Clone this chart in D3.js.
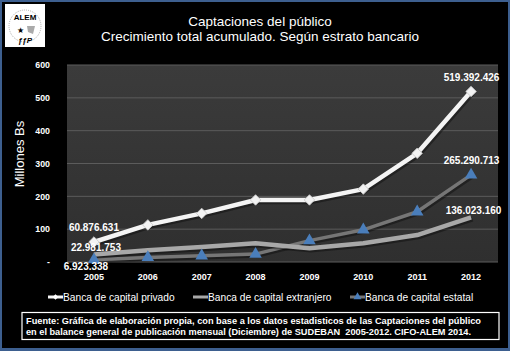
<!DOCTYPE html>
<html>
<head>
<meta charset="utf-8">
<script src="https://cdn.jsdelivr.net/npm/d3@7"></script>
<style>
  body { margin: 0; background: #000; }
  svg { display: block; }
</style>
</head>
<body>
<div id="chart"></div>
<script>
let w = 510;
let h = 351;

// data
let years = ["2005", "2006", "2007", "2008", "2009", "2010", "2011", "2012"];
let privado = [60.88, 113, 148, 189, 189, 222, 331, 519.39];
let extranjero = [22.98, 36, 46, 57, 42, 57, 82, 136.02];
let estatal = [6.92, 14, 19, 24, 65, 98, 153, 265.29];
let yTicks = [0, 100, 200, 300, 400, 500, 600];
let labelsPrivado = {0: "60.876.631", 7: "519.392.426"};
let labelsExtranjero = {0: "22.981.753", 7: "136.023.160"};
let labelsEstatal = {0: "6.923.338", 7: "265.290.713"};
let legendNames = ["Banca de capital privado", "Banca de capital extranjero", "Banca de capital estatal"];

let font = "'Liberation Sans', Arial, sans-serif";

let svg = d3.select("#chart").append("svg")
  .attr("width", w)
  .attr("height", h);

// frame
svg.append("rect").attr("width", w).attr("height", h).attr("fill", "#3d5f8f");
svg.append("rect").attr("x", 2).attr("y", 2).attr("width", w - 4).attr("height", h - 5).attr("fill", "#000");

let defs = svg.append("defs");
let grad = defs.append("linearGradient").attr("id", "bg").attr("x1", 0).attr("y1", 0).attr("x2", 0).attr("y2", 1);
grad.append("stop").attr("offset", "0%").attr("stop-color", "#3b3b3b");
grad.append("stop").attr("offset", "100%").attr("stop-color", "#2f2f2f");

// logo
let logo = svg.append("g").attr("transform", "translate(5,4)");
logo.append("rect").attr("width", 40).attr("height", 43).attr("fill", "#fff");
logo.append("circle").attr("cx", 20).attr("cy", 22).attr("r", 16).attr("fill", "none").attr("stroke", "#999").attr("stroke-width", 0.8).attr("stroke-dasharray", "1,1");
logo.append("text").attr("x", 20).attr("y", 16).attr("text-anchor", "middle")
  .attr("font-family", font).attr("font-weight", "bold").attr("font-size", 8).attr("fill", "#000").text("ALEM");
logo.append("text").attr("x", 15).attr("y", 29).attr("text-anchor", "middle")
  .attr("font-size", 8).attr("fill", "#000").text("★");
logo.append("path").attr("d", "M22,22 L30,22 L28,30 L23,28 Z").attr("fill", "#aaa");
logo.append("text").attr("x", 20).attr("y", 39).attr("text-anchor", "middle")
  .attr("font-family", font).attr("font-weight", "bold").attr("font-style", "italic").attr("font-size", 8).attr("fill", "#000").text("ƒƒP");

// title
svg.append("text").attr("x", 260).attr("y", 26).attr("text-anchor", "middle")
  .attr("font-family", font).attr("font-size", 13.5).attr("fill", "#fff")
  .text("Captaciones del público");
svg.append("text").attr("x", 260).attr("y", 41).attr("text-anchor", "middle")
  .attr("font-family", font).attr("font-size", 13.5).attr("fill", "#fff")
  .text("Crecimiento total acumulado. Según estrato bancario");

// plot
let pLeft = 67, pRight = 498, pTop = 65, pBottom = 262;

let x = d3.scaleBand().domain(years).range([pLeft, pRight]);
let y = d3.scaleLinear().domain([0, 600]).range([pBottom, pTop]);
let cx = d => x(d) + x.bandwidth() / 2;

svg.append("rect").attr("x", pLeft).attr("y", pTop).attr("width", pRight - pLeft).attr("height", pBottom - pTop)
  .attr("fill", "url(#bg)");

svg.append("g").selectAll("line").data(yTicks).enter().append("line")
  .attr("x1", pLeft).attr("x2", pRight)
  .attr("y1", d => y(d)).attr("y2", d => y(d))
  .attr("stroke", "#5c5c5c").attr("stroke-width", 1);

// y axis
let yAxis = d3.axisLeft(y).tickValues(yTicks).tickSize(0).tickPadding(17)
  .tickFormat(d => d === 0 ? "-" : d);
let yg = svg.append("g").attr("transform", "translate(" + pLeft + ",0)").call(yAxis);
yg.select(".domain").remove();
yg.selectAll("text").attr("fill", "#fff").attr("font-family", font).attr("font-weight", "bold").attr("font-size", 8.8);

svg.append("text").attr("transform", "translate(24,154) rotate(-90)")
  .attr("text-anchor", "middle").attr("font-family", font)
  .attr("font-size", 13).attr("fill", "#fff").text("Millones Bs");

// x axis
let xAxis = d3.axisBottom(x).tickSize(0).tickPadding(12);
let xg = svg.append("g").attr("transform", "translate(0," + pBottom + ")").call(xAxis);
xg.select(".domain").remove();
xg.selectAll("text").attr("fill", "#fff").attr("font-family", font).attr("font-weight", "bold").attr("font-size", 9);

let line = d3.line().x((d, i) => cx(years[i])).y(d => y(d));

// line with a soft shadow
function drawSeries(values, color, width) {
  svg.append("path").datum(values).attr("d", line).attr("fill", "none")
    .attr("stroke", "#000").attr("stroke-opacity", 0.35).attr("stroke-width", width)
    .attr("transform", "translate(1.5,2)");
  svg.append("path").datum(values).attr("d", line).attr("fill", "none")
    .attr("stroke", color).attr("stroke-width", width).attr("stroke-linejoin", "round");
}

drawSeries(estatal, "#767676", 3.5);
drawSeries(extranjero, "#a8a8a8", 4.5);
drawSeries(privado, "#f4f4f4", 4.5);

// diamonds (rotated squares)
let diamond = d3.symbol().type(d3.symbolSquare).size(55);
svg.append("g").selectAll("path").data(privado).enter().append("path")
  .attr("d", diamond)
  .attr("transform", (d, i) => "translate(" + cx(years[i]) + "," + y(d) + ") rotate(45)")
  .attr("fill", "#f2f2f2").attr("stroke", "#c8c8c8").attr("stroke-width", 0.8);

// triangles
let tri = d3.symbol().type(d3.symbolTriangle).size(68);
svg.append("g").selectAll("path").data(estatal).enter().append("path")
  .attr("d", tri)
  .attr("transform", (d, i) => "translate(" + cx(years[i]) + "," + y(d) + ")")
  .attr("fill", "#4a7ebb");

// data labels
function addLabels(values, labels, offsets) {
  Object.keys(labels).forEach(k => {
    let i = +k;
    let o = offsets[i];
    svg.append("text")
      .attr("x", cx(years[i]) + o[0]).attr("y", y(values[i]) + o[1])
      .attr("text-anchor", "middle")
      .attr("font-family", font).attr("font-weight", "bold").attr("font-size", 10)
      .attr("fill", "#fff").text(labels[k]);
  });
}
addLabels(privado, labelsPrivado, {0: [0, -11], 7: [0.5, -10.5]});
addLabels(extranjero, labelsExtranjero, {0: [2, -3.5], 7: [2.5, -3.5]});
addLabels(estatal, labelsEstatal, {0: [-8, 10.5], 7: [0.5, -11]});

// legend
let lg = svg.append("g").attr("transform", "translate(0,297)");
let legendX = [48, 193, 350];
legendNames.forEach((name, i) => {
  let g = lg.append("g").attr("transform", "translate(" + legendX[i] + ",0)");
  let col = i === 0 ? "#f4f4f4" : (i === 1 ? "#a8a8a8" : "#767676");
  g.append("line").attr("x1", 0).attr("x2", 15).attr("y1", 0).attr("y2", 0)
    .attr("stroke", col).attr("stroke-width", 3);
  if (i === 0) {
    g.append("path").attr("d", d3.symbol().type(d3.symbolSquare).size(16)).attr("transform", "translate(7.5,0) rotate(45)").attr("fill", "#fff");
  }
  if (i === 2) {
    g.append("path").attr("d", d3.symbol().type(d3.symbolTriangle).size(28)).attr("transform", "translate(7.5,0)").attr("fill", "#4a7ebb");
  }
  g.append("text").attr("x", 15).attr("y", 3.5)
    .attr("font-family", font).attr("font-size", 10.2).attr("fill", "#fff").text(name);
});

// source box
svg.append("rect").attr("x", 22).attr("y", 312.5).attr("width", 477).attr("height", 27)
  .attr("fill", "none").attr("stroke", "#fff").attr("stroke-width", 1.2);
let src = ["Fuente: Gráfica de elaboración propia, con base a los datos estadisticos de las Captaciones del público",
  "en el balance general de publicación mensual (Diciembre) de SUDEBAN  2005-2012. CIFO-ALEM 2014."];
let srcLen = [455, 445];
src.forEach((t, i) => {
  svg.append("text").attr("x", 26).attr("y", 323.5 + i * 11)
    .attr("font-family", font).attr("font-weight", "bold").attr("font-size", 9)
    .attr("textLength", srcLen[i]).attr("lengthAdjust", "spacingAndGlyphs")
    .attr("fill", "#fff").attr("xml:space", "preserve").text(t);
});
</script>
</body>
</html>
